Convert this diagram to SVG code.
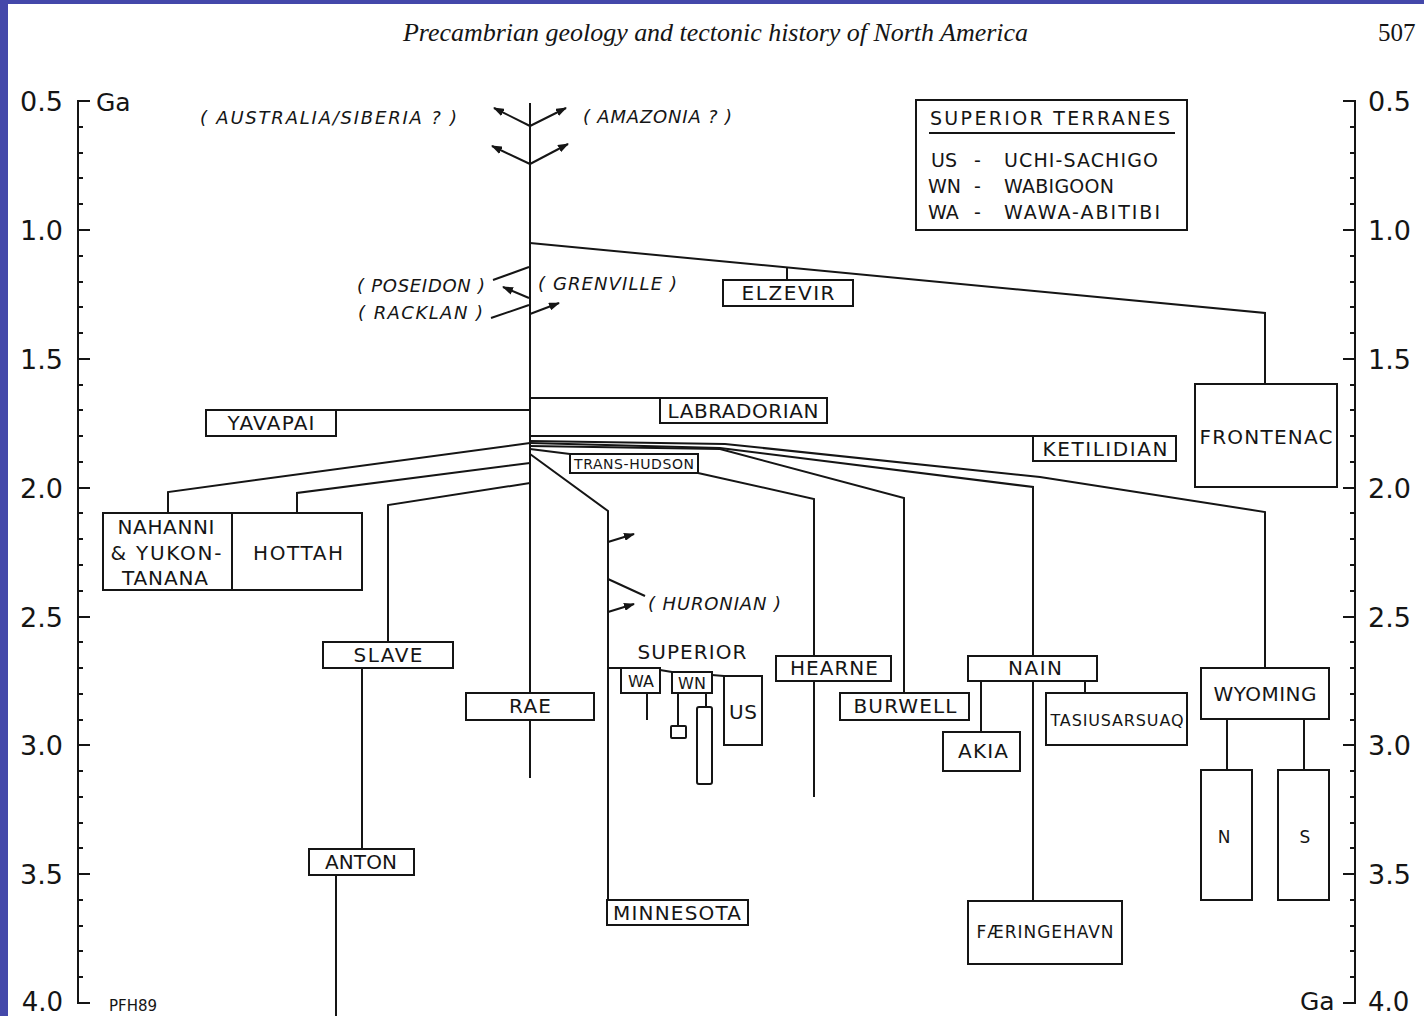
<svg xmlns="http://www.w3.org/2000/svg" width="1424" height="1016" viewBox="0 0 1424 1016">
<defs>
<style>
.ln{fill:none;stroke:#151515;stroke-width:2;stroke-linejoin:miter}
.bx{fill:#fff;stroke:#151515;stroke-width:2}
.lb{font-family:"DejaVu Sans","Liberation Sans",sans-serif;font-size:20px;fill:#151515;text-anchor:middle}
.it{font-family:"DejaVu Sans","Liberation Sans",sans-serif;font-style:italic;font-size:18px;fill:#151515}
.ax{font-family:"DejaVu Sans","Liberation Sans",sans-serif;font-size:27px;fill:#151515}
.lg{font-family:"DejaVu Sans","Liberation Sans",sans-serif;font-size:19px;fill:#151515}
</style>
<marker id="ah" markerUnits="userSpaceOnUse" markerWidth="11" markerHeight="8" refX="10" refY="4" orient="auto">
<path d="M0,0 L11,4 L0,8 z" fill="#151515"/>
</marker>
</defs>
<rect x="0" y="0" width="1424" height="1016" fill="#fff"/>
<rect x="0" y="0" width="1424" height="4" fill="#4448AA"/>
<rect x="0" y="0" width="8" height="1016" fill="#4448AA"/>

<g id="header">
<text x="403" y="41" font-family="Liberation Serif, serif" font-style="italic" font-size="26" fill="#151515" textLength="625">Precambrian geology and tectonic history of North America</text>
<text x="1378" y="41" font-family="Liberation Serif, serif" font-size="25" fill="#151515">507</text>
</g>

<g id="axis-left">
<path class="ln" d="M90,101 H78 V1003 H90"/>
<path class="ln" d="M78,127H83M78,153H83M78,178H83M78,204H83M78,230H90M78,256H83M78,282H83M78,307H83M78,333H83M78,359H90M78,385H83M78,410H83M78,436H83M78,462H83M78,488H90M78,513H83M78,539H83M78,565H83M78,591H83M78,617H90M78,642H83M78,668H83M78,694H83M78,720H83M78,745H90M78,771H83M78,797H83M78,823H83M78,848H83M78,874H90M78,900H83M78,926H83M78,951H83M78,977H83"/>
<g class="ax" text-anchor="end">
<text x="63" y="111">0.5</text>
<text x="63" y="240">1.0</text>
<text x="63" y="369">1.5</text>
<text x="63" y="498">2.0</text>
<text x="63" y="627">2.5</text>
<text x="63" y="755">3.0</text>
<text x="63" y="884">3.5</text>
<text x="63" y="1011" style="font-size:26px">4.0</text>
</g>
<text x="96" y="111" font-family="DejaVu Sans, sans-serif" font-size="25" fill="#151515">Ga</text>
<text x="109" y="1011" font-family="DejaVu Sans, sans-serif" font-size="15" fill="#151515">PFH89</text>
</g>

<g id="axis-right">
<path class="ln" d="M1343,101 H1355 V1003 H1343"/>
<path class="ln" d="M1350,127H1355M1350,153H1355M1350,178H1355M1350,204H1355M1343,230H1355M1350,256H1355M1350,282H1355M1350,307H1355M1350,333H1355M1343,359H1355M1350,385H1355M1350,410H1355M1350,436H1355M1350,462H1355M1343,488H1355M1350,513H1355M1350,539H1355M1350,565H1355M1350,591H1355M1343,617H1355M1350,642H1355M1350,668H1355M1350,694H1355M1350,720H1355M1343,745H1355M1350,771H1355M1350,797H1355M1350,823H1355M1350,848H1355M1343,874H1355M1350,900H1355M1350,926H1355M1350,951H1355M1350,977H1355"/>
<g class="ax">
<text x="1368" y="111">0.5</text>
<text x="1368" y="240">1.0</text>
<text x="1368" y="369">1.5</text>
<text x="1368" y="498">2.0</text>
<text x="1368" y="627">2.5</text>
<text x="1368" y="755">3.0</text>
<text x="1368" y="884">3.5</text>
<text x="1368" y="1011" style="font-size:26px">4.0</text>
</g>
<text x="1300" y="1010" font-family="DejaVu Sans, sans-serif" font-size="25" fill="#151515">Ga</text>
</g>

<g id="connectors">
<path class="ln" d="M530,103 V778"/>
<path class="ln" d="M530,126 L494,108" marker-end="url(#ah)"/>
<path class="ln" d="M530,126 L566,108" marker-end="url(#ah)"/>
<path class="ln" d="M530,164 L492,146" marker-end="url(#ah)"/>
<path class="ln" d="M530,164 L568,144" marker-end="url(#ah)"/>
<path class="ln" d="M530,243 L1265,313 V384"/>
<path class="ln" d="M787,268 V280"/>
<path class="ln" d="M493,280 L529,267"/>
<path class="ln" d="M529,298 L503,287" marker-end="url(#ah)"/>
<path class="ln" d="M491,318 L529,305"/>
<path class="ln" d="M530,314 L559,303" marker-end="url(#ah)"/>
<path class="ln" d="M530,398 H660"/>
<path class="ln" d="M530,410 H336"/>
<path class="ln" d="M530,436 H1033"/>
<path class="ln" d="M530,443 L168,492 V513"/>
<path class="ln" d="M530,463 L297,493 V513"/>
<path class="ln" d="M530,483 L388,505 V642"/>
<path class="ln" d="M362,668 V849"/>
<path class="ln" d="M336,875 V1016"/>
<path class="ln" d="M530,441 L725,444 L1040,477 L1265,512 V668"/>
<path class="ln" d="M530,443 L720,448 L1033,487 V656"/>
<path class="ln" d="M530,446 L720,449 L904,498 V693"/>
<path class="ln" d="M530,449 L570,454"/>
<path class="ln" d="M698,473 L814,499 V656"/>
<path class="ln" d="M814,681 V797"/>
<path class="ln" d="M530,454 L608,511 V900"/>
<path class="ln" d="M608,542 L634,534" marker-end="url(#ah)"/>
<path class="ln" d="M608,612 L634,604" marker-end="url(#ah)"/>
<path class="ln" d="M608,579 L645,596"/>
<path class="ln" d="M608,668 H621 M660,670 L672,672 M712,675 L724,676"/>
<path class="ln" d="M647,693 V720"/>
<path class="ln" d="M678,693 V726 M706,693 V707"/>
<path class="ln" d="M981,681 V732 M1033,681 V901 M1085,681 V693"/>
<path class="ln" d="M1227,719 V770 M1304,719 V770"/>
</g>

<g id="labels-italic" class="it">
<text x="200" y="124" textLength="257">( AUSTRALIA/SIBERIA ? )</text>
<text x="583" y="123" textLength="149">( AMAZONIA ? )</text>
<text x="357" y="292" textLength="128">( POSEIDON )</text>
<text x="538" y="290" textLength="139">( GRENVILLE )</text>
<text x="358" y="319" textLength="125">( RACKLAN )</text>
<text x="648" y="610" textLength="133">( HURONIAN )</text>
</g>

<g id="elzevir"><rect class="bx" x="723" y="280" width="130" height="26"/><text class="lb" x="788" y="300" textLength="93">ELZEVIR</text></g>
<g id="frontenac"><rect class="bx" x="1195" y="384" width="142" height="103"/><text class="lb" x="1266" y="444" textLength="133">FRONTENAC</text></g>
<g id="labradorian"><rect class="bx" x="660" y="398" width="167" height="25"/><text class="lb" x="743" y="418" textLength="151">LABRADORIAN</text></g>
<g id="yavapai"><rect class="bx" x="206" y="410" width="130" height="26"/><text class="lb" x="271" y="430" textLength="87">YAVAPAI</text></g>
<g id="ketilidian"><rect class="bx" x="1033" y="436" width="143" height="25"/><text class="lb" x="1105" y="456" textLength="125">KETILIDIAN</text></g>
<g id="trans-hudson"><rect class="bx" x="570" y="454" width="128" height="19"/><text class="lb" x="634" y="469" style="font-size:14px" textLength="120">TRANS-HUDSON</text></g>
<g id="nahanni"><rect class="bx" x="103" y="513" width="129" height="77"/>
<text class="lb" x="166" y="534" textLength="97">NAHANNI</text>
<text class="lb" x="166" y="560" textLength="111">&amp; YUKON-</text>
<text class="lb" x="165" y="585" textLength="86">TANANA</text></g>
<g id="hottah"><rect class="bx" x="232" y="513" width="130" height="77"/><text class="lb" x="298" y="560" textLength="90">HOTTAH</text></g>
<g id="slave"><rect class="bx" x="323" y="642" width="130" height="26"/><text class="lb" x="388" y="662" textLength="69">SLAVE</text></g>
<g id="anton"><rect class="bx" x="309" y="849" width="105" height="26"/><text class="lb" x="361" y="869" textLength="72">ANTON</text></g>
<g id="rae"><rect class="bx" x="466" y="693" width="128" height="27"/><text class="lb" x="530" y="713" textLength="42">RAE</text></g>
<g id="superior">
<text class="lb" x="692" y="659" textLength="109">SUPERIOR</text>
<rect class="bx" x="621" y="668" width="39" height="25"/><text class="lb" x="641" y="687" style="font-size:16px">WA</text>
<rect class="bx" x="672" y="672" width="40" height="21"/><text class="lb" x="692" y="689" style="font-size:16px">WN</text>
<rect class="bx" x="724" y="676" width="38" height="69"/><text class="lb" x="743" y="719" textLength="28">US</text>
<rect class="bx" x="671" y="726" width="15" height="12" rx="1"/>
<rect class="bx" x="697" y="707" width="15" height="77" rx="2"/>
</g>
<g id="minnesota"><rect class="bx" x="607" y="900" width="141" height="25"/><text class="lb" x="677" y="920" textLength="128">MINNESOTA</text></g>
<g id="hearne"><rect class="bx" x="776" y="656" width="115" height="25"/><text class="lb" x="834" y="675" textLength="88">HEARNE</text></g>
<g id="burwell"><rect class="bx" x="840" y="693" width="129" height="27"/><text class="lb" x="905" y="713" textLength="103">BURWELL</text></g>
<g id="nain"><rect class="bx" x="968" y="656" width="129" height="25"/><text class="lb" x="1035" y="675" textLength="54">NAIN</text></g>
<g id="akia"><rect class="bx" x="943" y="732" width="77" height="39"/><text class="lb" x="983" y="758" textLength="50">AKIA</text></g>
<g id="tasiusarsuaq"><rect class="bx" x="1046" y="693" width="141" height="52"/><text class="lb" x="1117" y="726" style="font-size:16px" textLength="133">TASIUSARSUAQ</text></g>
<g id="faeringehavn"><rect class="bx" x="968" y="901" width="154" height="63"/><text class="lb" x="1045" y="938" style="font-size:17px" textLength="137">FÆRINGEHAVN</text></g>
<g id="wyoming"><rect class="bx" x="1201" y="668" width="128" height="51"/><text class="lb" x="1265" y="701" textLength="103">WYOMING</text></g>
<g id="wyoming-n"><rect class="bx" x="1201" y="770" width="51" height="130"/><text class="lb" x="1224" y="843" style="font-size:17px">N</text></g>
<g id="wyoming-s"><rect class="bx" x="1278" y="770" width="51" height="130"/><text class="lb" x="1305" y="843" style="font-size:17px">S</text></g>

<g id="legend">
<rect class="bx" x="916" y="100" width="271" height="130"/>
<text class="lg" x="930" y="125" textLength="240">SUPERIOR  TERRANES</text>
<path class="ln" d="M929,133 H1175"/>
<text class="lg" x="931" y="167">US</text><text class="lg" x="974" y="167">-</text><text class="lg" x="1004" y="167" textLength="154">UCHI-SACHIGO</text>
<text class="lg" x="928" y="193">WN</text><text class="lg" x="974" y="193">-</text><text class="lg" x="1004" y="193" textLength="110">WABIGOON</text>
<text class="lg" x="928" y="219">WA</text><text class="lg" x="974" y="219">-</text><text class="lg" x="1004" y="219" textLength="156">WAWA-ABITIBI</text>
</g>
</svg>
